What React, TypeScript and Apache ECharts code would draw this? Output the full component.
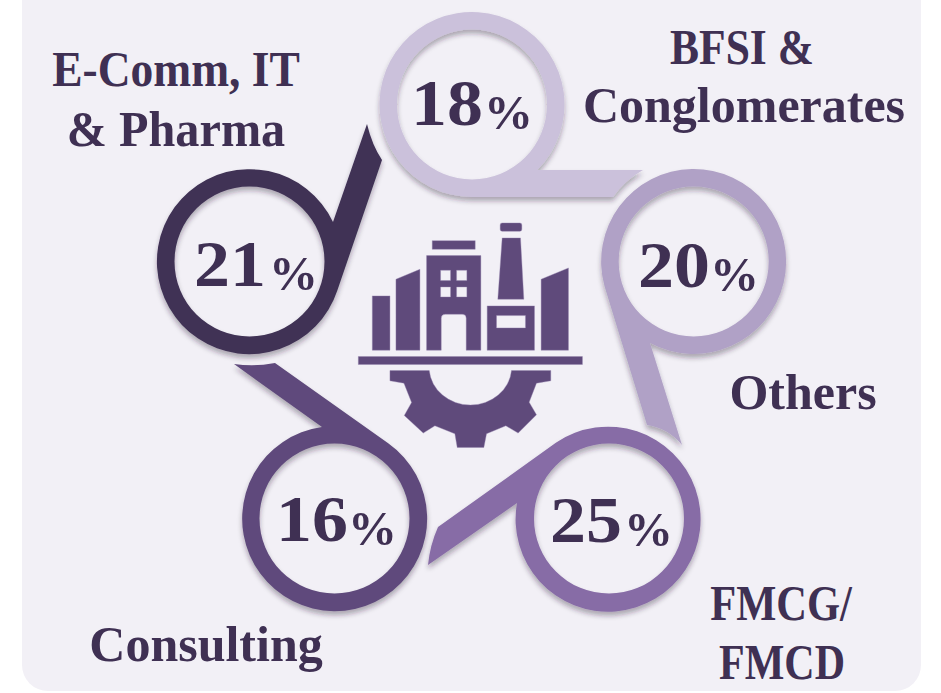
import React, { useEffect, useRef } from "react";
import * as echarts from "echarts";

const categories = ["BFSI & Conglomerates", "Others", "FMCG/ FMCD", "Consulting", "E-Comm, IT & Pharma"];
const shares = [18, 20, 25, 16, 21];
const labelLines = [
  ["BFSI &", "Conglomerates"],
  ["Others"],
  ["FMCG/", "FMCD"],
  ["Consulting"],
  ["E-Comm, IT", "& Pharma"],
];
const ringColors = ["#CBC1DB", "#B0A1C6", "#876CA6", "#5F4A7B", "#3F3154"];
const TEXT = "#3F3053";
const PANEL = "#F2F0F6";
const FONT = '"Liberation Serif"';

type Pt = number[];
// labels: [centre x, centre y, horizontal squeeze]
const layout: { c: Pt; tangent: Pt; corner: Pt; ctrl: Pt; tip: Pt; join: Pt; digitEnd: number; pctStart: number; base: number; labels: Pt[] }[] = [
  { c: [472, 104.5], tangent: [472, 197], corner: [613, 197], ctrl: [625, 180], tip: [643, 170], join: [537.3, 170], digitEnd: 483, pctStart: 484, base: 136, labels: [[742, 47, 0.87], [744, 104.5, 1]] },
  { c: [693.7, 261.5], tangent: [604.6, 286.5], corner: [647, 425], ctrl: [668, 428], tip: [682, 445], join: [650, 343], digitEnd: 710, pctStart: 710, base: 298, labels: [[803, 392, 1]] },
  { c: [609, 518.5], tangent: [556.2, 442.6], corner: [438, 527], ctrl: [430, 545], tip: [428, 565], join: [517, 503], digitEnd: 622, pctStart: 624, base: 553, labels: [[781, 603, 0.85], [782, 662, 0.84]] },
  { c: [334.5, 518.5], tangent: [388.2, 443.2], corner: [275, 363], ctrl: [255, 367], tip: [234, 364], join: [322, 427], digitEnd: 348, pctStart: 348, base: 552, labels: [[206, 644, 1]] },
  { c: [249.5, 261.5], tangent: [337.3, 290.5], corner: [382, 160], ctrl: [372, 145], tip: [367, 124], join: [333, 222], digitEnd: 266, pctStart: 269, base: 297, labels: [[176, 69, 0.91], [176, 129, 0.965]] },
];

const OUTER = 92.5;
const INNER = 75;

const factoryPath = [
  "M97 258H150V421H97Z",
  "M168 208L240 178V421H168Z",
  "M277 92H406V118H277Z",
  "M260 137H423V421H379V325Q379 313 367 313H316Q304 313 304 325V421H260Z",
  "M302 181V212H332V181Z",
  "M350 181V212H381V181Z",
  "M302 231V261H332V231Z",
  "M350 231V261H381V231Z",
  "M487 39H540Q546 39 546 45V58Q546 64 540 64H487Q481 64 481 58V45Q481 39 487 39Z",
  "M487 84H542L552 268H474Z",
  "M442 288H584V421H442Z",
  "M470 317V354H557V317Z",
  "M604 208L686 174V421H604Z",
  "M55 440H728V464H55Z",
  "M150 482H268A124 114 0 0 0 515 482H633V513L590 520L568 577L590 615L535 670L498 648L440 672L432 713H352L345 672L285 648L250 670L193 617L215 578L192 520L150 513Z",
].join("");

function renderRing(params: any, api: any) {
  const i = params.dataIndex;
  const L = layout[i];
  const p = (q: Pt) => api.coord(q);
  const [cx, cy] = p(L.c);
  const t = p(L.tangent), k = p(L.corner), q = p(L.ctrl), tip = p(L.tip), j = p(L.join);
  const d =
    `M${t[0]} ${t[1]}L${k[0]} ${k[1]}Q${q[0]} ${q[1]} ${tip[0]} ${tip[1]}L${j[0]} ${j[1]}` +
    `A${OUTER} ${OUTER} 0 1 0 ${t[0]} ${t[1]}Z` +
    `M${cx - INNER} ${cy}A${INNER} ${INNER} 0 1 1 ${cx + INNER} ${cy}A${INNER} ${INNER} 0 1 1 ${cx - INNER} ${cy}Z`;
  const children: any[] = [
    {
      type: "path",
      shape: { pathData: d },
      style: { fill: ringColors[i], shadowBlur: 5, shadowOffsetY: 4, shadowColor: "rgba(40,35,50,0.35)" },
    },
    {
      type: "text",
      x: L.digitEnd,
      y: L.base,
      scaleX: 1.09,
      style: { text: String(api.value(2)), x: 0, y: 0, align: "right", verticalAlign: "bottom", font: `bold 66px ${FONT}`, fill: TEXT, lineHeight: 66 },
    },
    {
      type: "text",
      x: L.pctStart,
      y: L.base + 1,
      style: { text: "%", x: 0, y: 0, align: "left", verticalAlign: "bottom", font: `bold 49px ${FONT}`, fill: TEXT, lineHeight: 49 },
    },
  ];
  labelLines[i].forEach((line, n) => {
    const [x, y, squeeze] = L.labels[n];
    children.push({
      type: "text",
      x,
      y,
      scaleX: squeeze,
      style: { text: line, x: 0, y: 0, align: "center", verticalAlign: "middle", font: `bold 50px ${FONT}`, fill: TEXT },
    });
  });
  return { type: "group", children };
}

function renderFactory() {
  return {
    type: "path",
    x: 340,
    y: 210,
    scaleX: 1 / 3,
    scaleY: 1 / 3,
    shape: { pathData: factoryPath },
    style: { fill: "#5F4A7B", stroke: "rgba(150,132,175,0.6)", lineWidth: 2 },
  };
}

export default function App() {
  const ref = useRef<HTMLDivElement>(null);
  useEffect(() => {
    const chart = echarts.init(ref.current!, undefined, { renderer: "svg" });
    chart.setOption({
      animation: false,
      backgroundColor: "#FFFFFF",
      grid: { left: 0, right: 0, top: 0, bottom: 0 },
      xAxis: { type: "value", min: 0, max: 941, show: false },
      yAxis: { type: "value", min: 0, max: 693, inverse: true, show: false },
      graphic: [
        { type: "rect", z: 0, shape: { x: 22, y: -40, width: 899, height: 731, r: 26 }, style: { fill: PANEL } },
      ],
      series: [
        {
          type: "custom",
          name: "Factory",
          clip: false,
          silent: true,
          renderItem: renderFactory,
          data: [[470, 340]],
        },
        {
          type: "custom",
          name: "Share",
          clip: false,
          silent: true,
          renderItem: renderRing,
          encode: { x: 0, y: 1 },
          data: shares.map((v, i) => ({ name: categories[i], value: [layout[i].c[0], layout[i].c[1], v] })),
        },
      ],
    });
    return () => chart.dispose();
  }, []);
  return <div ref={ref} style={{ position: "fixed", left: 0, top: 0, width: 941, height: 693 }} />;
}
